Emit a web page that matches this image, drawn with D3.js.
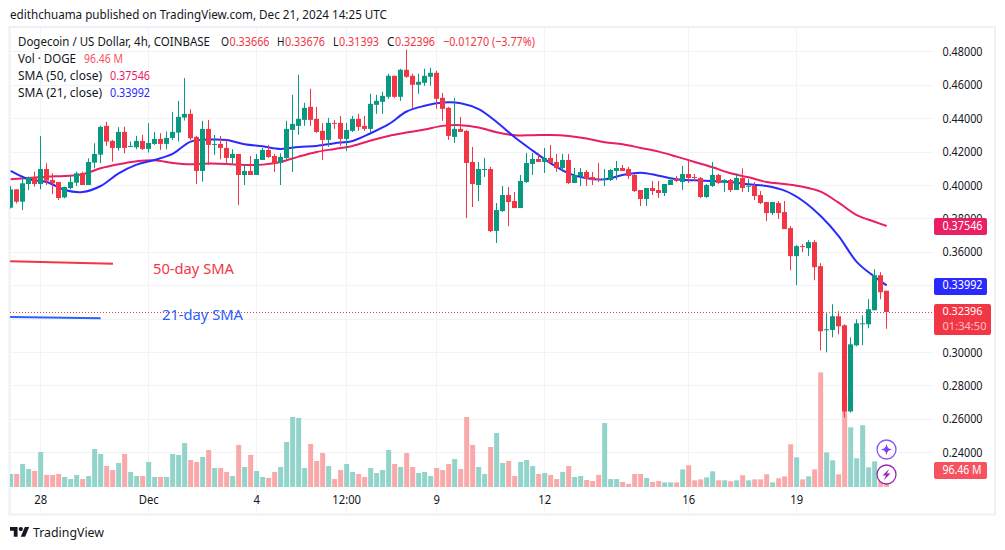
<!DOCTYPE html>
<html>
<head>
<meta charset="utf-8">
<script src="https://cdn.jsdelivr.net/npm/d3@7"></script>
<style>
html,body{margin:0;padding:0;background:#fff;}
svg{display:block;}
text{font-family:"Noto Sans",sans-serif;}
</style>
</head>
<body>
<div id="chart"></div>
<script>
const opens=[.3864,.3974,.3900,.4006,.4046,.4006,.4096,.4030,.4018,.3926,
.3982,.4014,.4072,.4000,.4134,.4182,.4354,.4264,.4222,.4318,
.4230,.4226,.4264,.4216,.4246,.4276,.4246,.4282,.4314,.4404,
.4426,.4288,.4084,.4336,.4242,.4246,.4222,.4162,.4186,.4060,
.4084,.4060,.4150,.4210,.4174,.4132,.4162,.4330,.4354,.4390,
.4468,.4396,.4324,.4270,.4372,.4372,.4276,.4324,.4396,.4354,
.4336,.4480,.4498,.4528,.4654,.4528,.4690,.4654,.4600,.4612,
.4648,.4672,.4522,.4462,.4288,.4336,.4324,.4138,.4000,.4092,
.4096,.3725,.3844,.3940,.3904,.3862,.4018,.4126,.4156,.4138,
.4162,.4138,.4102,.4150,.4012,.4054,.4078,.4048,.4036,.4034,
.4030,.4084,.4102,.4096,.4060,.3970,.3916,.3982,.3970,.3952,
.4000,.4036,.4018,.4066,.4048,.4042,.3928,.3994,.4060,.4014,
.4030,.3970,.4042,.3994,.3994,.3940,.3898,.3832,.3892,.3838,
.3742,.3574,.3634,.3622,.3658,.3514,.3132,.3132,.3214,.3160,
.2644,.3040,.3170,.3166,.3250,.3460,.33666];
const highs=[.3994,.3974,.4046,.4050,.4080,.4294,.4130,.4070,.4018,.3990,
.4060,.4080,.4080,.4160,.4250,.4354,.4378,.4270,.4346,.4350,
.4260,.4294,.4300,.4370,.4318,.4310,.4320,.4438,.4504,.4640,
.4454,.4294,.4384,.4390,.4300,.4294,.4270,.4214,.4186,.4120,
.4174,.4186,.4222,.4240,.4186,.4190,.4384,.4540,.4660,.4492,
.4576,.4468,.4370,.4402,.4390,.4414,.4372,.4414,.4426,.4414,
.4546,.4540,.4558,.4666,.4654,.4696,.4810,.4666,.4666,.4696,
.4702,.4684,.4552,.4468,.4522,.4408,.4330,.4228,.4138,.4162,
.4108,.3892,.3994,.3988,.3958,.4060,.4192,.4192,.4192,.4222,
.4240,.4186,.4186,.4186,.4102,.4102,.4090,.4078,.4132,.4096,
.4096,.4144,.4120,.4108,.4066,.3970,.3982,.4024,.4024,.4006,
.4048,.4054,.4114,.4150,.4066,.4048,.4006,.4138,.4066,.4036,
.4036,.4070,.4100,.4036,.4018,.3964,.3898,.3898,.3904,.3904,
.3754,.3640,.3646,.3670,.3670,.3532,.3232,.3286,.3244,.3166,
.3088,.3196,.3220,.3316,.3496,.3478,.33676];
const lows=[.3860,.3890,.3850,.3970,.3990,.3974,.4000,.3946,.3910,.3920,
.3974,.3994,.4000,.4000,.4100,.4130,.4234,.4140,.4206,.4190,
.4226,.4214,.4210,.4194,.4240,.4210,.4214,.4270,.4260,.4386,
.4270,.4006,.4020,.4120,.4180,.4154,.4120,.4120,.3880,.4000,
.4060,.4060,.4150,.4162,.4078,.4000,.4156,.4078,.4300,.4354,
.4354,.4312,.4150,.4228,.4336,.4234,.4204,.4318,.4324,.4324,
.4312,.4426,.4426,.4516,.4522,.4504,.4642,.4462,.4546,.4594,
.4594,.4456,.4384,.4270,.4252,.4318,.3802,.3868,.3904,.4048,
.3718,.3653,.3838,.3754,.3862,.3862,.4012,.4060,.4138,.4072,
.4132,.4078,.4078,.4006,.4012,.3994,.3994,.4000,.4018,.3994,
.4024,.4030,.4084,.4036,.3958,.3874,.3874,.3940,.3922,.3934,
.4000,.4018,.3970,.4012,.4024,.3922,.3922,.3988,.4006,.3958,
.3958,.3970,.3958,.3958,.3910,.3886,.3784,.3820,.3796,.3736,
.3490,.3400,.3598,.3574,.3430,.3010,.2998,.3088,.3106,.2608,
.2638,.3034,.3040,.3142,.3250,.3316,.31393];
const closes=[.3974,.3900,.4010,.4046,.4006,.4096,.4026,.4010,.3922,.3988,
.4018,.4070,.4000,.4138,.4186,.4348,.4260,.4222,.4318,.4222,
.4234,.4264,.4216,.4252,.4276,.4246,.4282,.4318,.4408,.4426,
.4280,.4084,.4336,.4240,.4246,.4222,.4162,.4186,.4060,.4084,
.4060,.4156,.4210,.4168,.4126,.4168,.4336,.4366,.4396,.4462,
.4390,.4318,.4270,.4372,.4370,.4276,.4330,.4396,.4348,.4336,
.4486,.4504,.4534,.4654,.4528,.4690,.4648,.4600,.4618,.4654,
.4672,.4516,.4456,.4294,.4336,.4318,.4132,.4006,.4096,.4096,
.3724,.3850,.3940,.3898,.3862,.4024,.4132,.4156,.4138,.4162,
.4132,.4102,.4150,.4012,.4060,.4078,.4036,.4030,.4034,.4036,
.4090,.4102,.4084,.4054,.3964,.3916,.3982,.3964,.3952,.4006,
.4030,.4024,.4066,.4042,.4044,.3928,.4000,.4060,.4012,.4030,
.3970,.4042,.3982,.3996,.3934,.3892,.3832,.3898,.3832,.3736,
.3574,.3634,.3628,.3658,.3508,.3124,.3136,.3214,.3154,.2644,
.3046,.3172,.3172,.3256,.3460,.3358,.32396];
const volumes=[82,82,145,113,101,220,76,76,82,63,
50,76,50,69,239,208,132,107,151,208,
95,69,69,158,63,63,63,208,202,277,
170,158,189,233,120,120,95,69,265,126,
202,101,63,57,95,126,284,441,435,120,
271,164,214,132,50,107,145,95,82,63,
120,88,107,233,145,126,214,126,88,95,
69,120,107,145,176,113,441,265,126,82,
252,340,151,164,69,158,170,132,82,88,
76,50,95,132,63,69,44,38,76,403,
50,50,32,19,82,82,57,32,38,29,
29,29,111,137,42,48,61,99,42,42,
36,42,74,42,48,48,80,29,55,67,
269,187,48,67,111,722,218,168,80,567,
376,181,389,124,162,63,96.46];

const smaIdx=[0,3,6,9,12,15,18,21,24,27,30,33,36,39,42,45,48,51,54,57,60,63,66,69,72,75,78,81,84,87,90,93,96,99,102,105,108,111,114,117,120,123,126,129,132,135,138,141,144,146];
const sma21=[.4084,.4034,.4018,.3970,.3958,.3994,.4070,.4122,.4150,.4186,.4260,.4272,.4270,.4244,.4232,.4216,.4228,.4234,.4250,.4264,.4310,.4364,.4440,.4474,.4494,.4490,.4454,.4377,.4286,.4206,.4130,.4070,.4040,.4034,.4060,.4074,.4056,.4034,.4028,.4024,.4018,.4004,.3994,.3966,.3906,.3814,.3694,.3540,.3450,.33992];
const sma50=[.4034,.4042,.4050,.4054,.4064,.4100,.4124,.4142,.4148,.4132,.4124,.4128,.4126,.4120,.4122,.4138,.4170,.4198,.4216,.4234,.4266,.4294,.4314,.4332,.4354,.4358,.4344,.4316,.4298,.4298,.4300,.4294,.4278,.4256,.4244,.4222,.4200,.4170,.4138,.4106,.4070,.4046,.4018,.4006,.3990,.3960,.3894,.3820,.3780,.37546];

const gridPrices=[.48,.46,.44,.42,.40,.38,.36,.34,.32,.30,.28,.26,.24];
const priceTicks=[.48,.46,.44,.42,.40,.38,.36,.30,.28,.26,.24];
const dayIdx=[5,23,41,56,71,89,113,131];
const dayLabels=["28","Dec","4","12:00","9","12","16","19"];
const noteIdx=[[-0.1,17.05],[-0.1,15]];
const notePrice=[[.3543,.3529],[.3210,.3202]];

const W=1005,H=550;
const green="#089981",red="#f23645",blue="#2a2aff",pink="#e91e63",ink="#131722";
const svg=d3.select("#chart").append("svg").attr("width",W).attr("height",H);
const x=d3.scaleLinear().domain([0,146]).range([10.67,886.67]);
const y=d3.scaleLinear().domain([.24,.48]).range([452.2,51.4]);
const v=d3.scaleLinear().domain([0,630]).range([487,387]);
const plotL=10,plotR=933,plotT=28;

// draw a text and squeeze it to the width measured on the reference
function label(parent,tx,ty,size,fill,str,width){
  const t=parent.append("text").attr("x",tx).attr("y",ty).attr("font-size",size).attr("fill",fill).text(str);
  if(width) t.attr("textLength",width).attr("lengthAdjust","spacingAndGlyphs");
  return t;
}

svg.append("defs").append("clipPath").attr("id","plot").append("rect")
  .attr("x",plotL).attr("y",plotT).attr("width",plotR-plotL).attr("height",514-plotT);

// frame
svg.append("rect").attr("x",9.5).attr("y",27).attr("width",985.5).attr("height",487.5)
  .attr("fill","none").attr("stroke","#eef0f5").attr("stroke-width",2);

// grid
const grid=svg.append("g").attr("stroke","#f2f3f6").attr("stroke-width",1);
grid.selectAll("line.h").data(gridPrices).join("line").attr("class","h")
  .attr("x1",plotL).attr("x2",plotR)
  .attr("y1",d=>Math.round(y(d))+.5).attr("y2",d=>Math.round(y(d))+.5);
grid.selectAll("line.v").data(dayIdx).join("line").attr("class","v")
  .attr("y1",plotT).attr("y2",514)
  .attr("x1",d=>Math.floor(x(d))+.5).attr("x2",d=>Math.floor(x(d))+.5);

const plot=svg.append("g").attr("clip-path","url(#plot)");
const idx=d3.range(opens.length);
const up=i=>closes[i]>=opens[i];

// volume
plot.append("g").selectAll("rect").data(idx).join("rect")
  .attr("x",i=>x(i)-2.5).attr("width",5)
  .attr("y",i=>v(volumes[i])).attr("height",i=>v(0)-v(volumes[i]))
  .attr("fill",i=>up(i)?"#92d3ca":"#f9a9a9");

// annotation strokes
noteIdx.forEach((n,k)=>{
  plot.append("line").attr("x1",x(n[0])).attr("x2",x(n[1]))
    .attr("y1",y(notePrice[k][0])).attr("y2",y(notePrice[k][1]))
    .attr("stroke",k?"#2962ff":red).attr("stroke-width",2);
});

// SMA lines
const line=vals=>d3.line().x((d,k)=>x(smaIdx[k])).y(d=>y(d)).curve(d3.curveCatmullRom)(vals);
plot.append("path").attr("d",line(sma50)).attr("fill","none").attr("stroke",pink).attr("stroke-width",2);
plot.append("path").attr("d",line(sma21)).attr("fill","none").attr("stroke",blue).attr("stroke-width",2);

// current price dotted line
plot.append("line").attr("x1",plotL).attr("x2",plotR)
  .attr("y1",Math.round(y(closes[146]))+.5).attr("y2",Math.round(y(closes[146]))+.5)
  .attr("stroke",red).attr("stroke-width",1).attr("stroke-dasharray","1 2");

// candles
const c=plot.append("g");
c.selectAll("line").data(idx).join("line")
  .attr("x1",i=>Math.round(x(i))+.5-1).attr("x2",i=>Math.round(x(i))+.5-1)
  .attr("y1",i=>y(highs[i])).attr("y2",i=>y(lows[i]))
  .attr("stroke",i=>up(i)?green:red).attr("stroke-width",1);
c.selectAll("rect").data(idx).join("rect")
  .attr("x",i=>Math.round(x(i))-3).attr("width",5)
  .attr("y",i=>y(Math.max(opens[i],closes[i])))
  .attr("height",i=>Math.max(1,Math.abs(y(opens[i])-y(closes[i]))))
  .attr("fill",i=>up(i)?green:red);

// annotation labels
label(svg,153,274,14.5,red,"50-day SMA",81);
label(svg,162,320,14.5,"#2962ff","21-day SMA",81);

// axes
const ya=d3.axisRight(y).tickValues(priceTicks).tickSize(0).tickPadding(0).tickFormat(d3.format(".5f"));
const yg=svg.append("g").attr("transform","translate(942.5,0)").call(ya);
yg.select(".domain").remove();
yg.selectAll("text").attr("font-size",13).attr("fill",ink).attr("font-family","Noto Sans")
  .attr("textLength",40).attr("lengthAdjust","spacingAndGlyphs");
const xa=d3.axisBottom(x).tickValues(dayIdx).tickSize(0).tickPadding(0).tickFormat((d,k)=>dayLabels[k]);
const xg=svg.append("g").attr("transform","translate(-0.5,495)").call(xa);
xg.select(".domain").remove();
xg.selectAll("text").attr("font-size",12.5).attr("fill",ink).attr("font-family","Noto Sans")
  .each(function(){d3.select(this).attr("textLength",this.getComputedTextLength()*.9).attr("lengthAdjust","spacingAndGlyphs");});

// price tags
function tag(x0,x1,y0,y1,fill){
  svg.append("rect").attr("x",x0).attr("y",y0).attr("width",x1-x0).attr("height",y1-y0).attr("rx",2).attr("fill",fill);
}
function tagText(t,yy,w,op,size){
  label(svg,942.5,yy,size||13,"#fff",t,w).attr("fill-opacity",op||1).attr("dominant-baseline","middle");
}
tag(934,987,218,235,pink);  tagText(d3.format(".5f")(sma50[49]),y(sma50[49])+.5,40);
tag(934,987,278,295,blue);  tagText(d3.format(".5f")(sma21[49]),y(sma21[49])+.5,40);
tag(934,991,304,335,red);   tagText(d3.format(".5f")(closes[146]),312,40,1,11.5); tagText("01:34:50",327,44,.7,11.5);
tag(934,987,462,479,"#f7525f"); tagText("96.46 M",471,39);

// publisher header
label(svg,10,19,12.3,ink,"edithchuama published on TradingView.com, Dec 21, 2024 14:25 UTC",377);

// legend
const leg=svg.append("g");
[["Dogecoin / US Dollar, 4h, COINBASE",18,192,ink],["O",221,8,ink],["0.33666",229.5,40,red],
 ["H",277,7.5,ink],["0.33676",285,40,red],["L",333,5.5,ink],["0.31393",339,40,red],
 ["C",387,7.5,ink],["0.32396",395,40,red],["\u22120.01270 (\u22123.77%)",443,92,red]]
 .forEach(d=>label(leg,d[1],46,12.3,d[3],d[0],d[2]));
label(leg,18,63,12.3,ink,"Vol \u00b7 DOGE",58);
label(leg,84,63,12.3,"#f7525f","96.46 M",39);
label(leg,18,80,12.3,ink,"SMA (50, close)",84);
label(leg,110,80,12.3,pink,"0.37546",40);
label(leg,18,97,12.3,ink,"SMA (21, close)",84);
label(leg,110,97,12.3,blue,"0.33992",40);

// side icons
const ic1=svg.append("g").attr("transform","translate(886.5,449.5)");
ic1.append("circle").attr("r",9.5).attr("fill","#fff").attr("stroke","#7e57f5").attr("stroke-width",1.3);
ic1.append("path").attr("d","M0,-6 C.8,-1.6 1.6,-.8 6,0 C1.6,.8 .8,1.6 0,6 C-.8,1.6 -1.6,.8 -6,0 C-1.6,-.8 -.8,-1.6 0,-6Z").attr("fill","#7e3ff2");
const ic2=svg.append("g").attr("transform","translate(886.5,474.5)");
ic2.append("circle").attr("r",9.5).attr("fill","#fff").attr("stroke","#9c27b0").attr("stroke-width",1.3);
ic2.append("path").attr("d","M2.5,-5.5 L-4,1 L-.5,1 L-2.5,5.5 L4,-1 L.5,-1Z").attr("fill","#9c27b0");

// footer logo
const logo=svg.append("g").attr("transform","translate(10,524.8) scale(.54)").attr("fill",ink);
logo.append("path").attr("d","M14 22H7V11H0V4h14v18zM28 22h-8l7.5-18h8L28 22z");
logo.append("circle").attr("cx",20).attr("cy",8).attr("r",4);
label(svg,33,537,13,ink,"TradingView",71);
</script>
</body>
</html>
